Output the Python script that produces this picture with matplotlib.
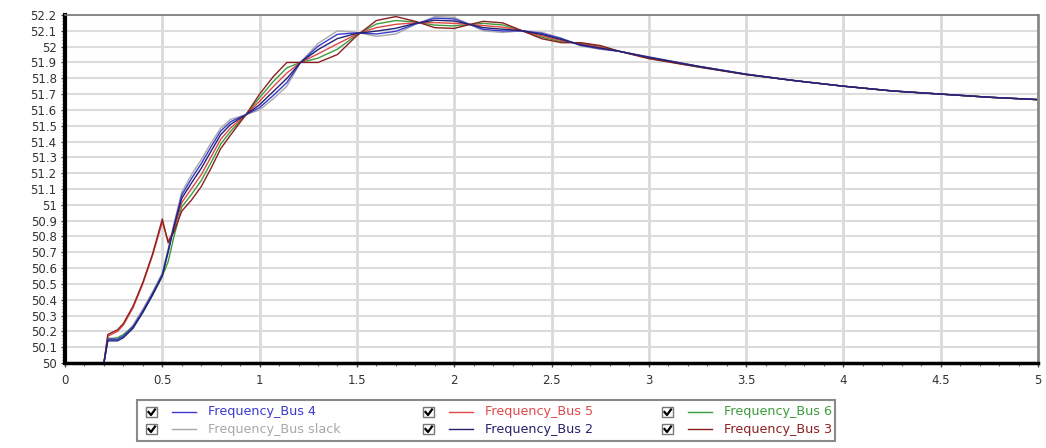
import numpy as np
import matplotlib
matplotlib.use("Agg")
import matplotlib.pyplot as plt
from matplotlib.patches import Rectangle
from matplotlib.ticker import MultipleLocator, FuncFormatter

# time grid (s)
t = [0.0, 0.2, 0.22, 0.27, 0.3, 0.35, 0.4, 0.45, 0.5, 0.53, 0.56,
     0.6, 0.65, 0.7, 0.75, 0.8, 0.85, 0.93, 1.0, 1.07, 1.14, 1.21,
     1.3, 1.4, 1.5, 1.6, 1.7, 1.8, 1.9, 2.0, 2.08, 2.15, 2.25, 2.35,
     2.45, 2.55, 2.65, 2.75, 2.85, 3.0, 3.25, 3.5, 3.75, 4.0, 4.25,
     4.5, 4.75, 5.0]

# shared tail (t >= 3.75)
tail = [51.785, 51.75, 51.72, 51.70, 51.68, 51.665]

f_bus4 = [50.0, 50.0, 50.15, 50.15, 50.17, 50.23, 50.33, 50.44, 50.56, 50.71, 50.87,
          51.062, 51.166, 51.26, 51.366, 51.466, 51.525, 51.57, 51.615, 51.691, 51.773, 51.90,
          52.002, 52.078, 52.087, 52.08, 52.097, 52.143, 52.18, 52.175, 52.14, 52.109, 52.099, 52.10,
          52.084, 52.051, 52.008, 51.987, 51.97, 51.934, 51.877, 51.826] + tail
f_bus5 = [50.0, 50.0, 50.17, 50.20, 50.24, 50.35, 50.50, 50.68, 50.89, 50.77, 50.84,
          51.014, 51.102, 51.19, 51.302, 51.414, 51.485, 51.57, 51.655, 51.747, 51.833, 51.90,
          51.954, 52.018, 52.079, 52.12, 52.141, 52.151, 52.152, 52.147, 52.14, 52.133, 52.123, 52.10,
          52.068, 52.039, 52.016, 51.996, 51.97, 51.929, 51.875, 51.825] + tail
f_bus6 = [50.0, 50.0, 50.15, 50.16, 50.18, 50.23, 50.32, 50.43, 50.55, 50.64, 50.80,
          50.987, 51.066, 51.153, 51.266, 51.384, 51.463, 51.57, 51.678, 51.779, 51.866, 51.90,
          51.927, 51.984, 52.075, 52.143, 52.165, 52.156, 52.136, 52.131, 52.14, 52.147, 52.137, 52.10,
          52.059, 52.032, 52.021, 52.002, 51.97, 51.927, 51.873, 51.824] + tail
f_slack = [50.0, 50.0, 50.16, 50.15, 50.17, 50.24, 50.34, 50.45, 50.57, 50.72, 50.88,
           51.08, 51.19, 51.285, 51.39, 51.485, 51.54, 51.57, 51.60, 51.67, 51.75, 51.90,
           52.02, 52.10, 52.09, 52.065, 52.08, 52.14, 52.19, 52.185, 52.14, 52.10, 52.09, 52.10,
           52.09, 52.055, 52.005, 51.983, 51.97, 51.936, 51.878, 51.827] + tail
f_bus2 = [50.0, 50.0, 50.14, 50.14, 50.16, 50.22, 50.32, 50.43, 50.55, 50.70, 50.86,
          51.041, 51.138, 51.23, 51.338, 51.443, 51.508, 51.57, 51.633, 51.716, 51.799, 51.90,
          51.981, 52.051, 52.084, 52.098, 52.116, 52.147, 52.167, 52.162, 52.14, 52.12, 52.11, 52.10,
          52.077, 52.045, 52.012, 51.991, 51.97, 51.932, 51.876, 51.825] + tail
f_bus3 = [50.0, 50.0, 50.18, 50.21, 50.25, 50.36, 50.51, 50.69, 50.91, 50.76, 50.83,
          50.96, 51.03, 51.115, 51.23, 51.355, 51.44, 51.57, 51.70, 51.81, 51.90, 51.90,
          51.90, 51.95, 52.07, 52.165, 52.19, 52.16, 52.12, 52.115, 52.14, 52.16, 52.15, 52.10,
          52.05, 52.025, 52.025, 52.007, 51.97, 51.924, 51.872, 51.823] + tail

names = ["Frequency_Bus 4", "Frequency_Bus 5", "Frequency_Bus 6",
         "Frequency_Bus slack", "Frequency_Bus 2", "Frequency_Bus 3"]
series = [f_bus4, f_bus5, f_bus6, f_slack, f_bus2, f_bus3]
colors = ["#3a3ad0", "#e04848", "#3c9c3c", "#a8a8a8", "#23236e", "#8c2020"]
draw_order = [3, 2, 1, 5, 0, 4]

fig = plt.figure(figsize=(10.46, 4.48), dpi=100)
ax = fig.add_axes([65/1046, 1-363/448, (1038-65)/1046, (363-15)/448])

for i in draw_order:
    ax.plot(t, series[i], color=colors[i], lw=1.0)

ax.set_xlim(0, 5)
ax.set_ylim(50, 52.2)
ax.xaxis.set_major_locator(MultipleLocator(0.5))
ax.xaxis.set_minor_locator(MultipleLocator(0.1))
ax.yaxis.set_major_locator(MultipleLocator(0.1))
ax.yaxis.set_minor_locator(MultipleLocator(0.02))
ax.xaxis.set_major_formatter(FuncFormatter(lambda v, p: "%g" % round(v, 2)))
ax.yaxis.set_major_formatter(FuncFormatter(lambda v, p: "%g" % round(v, 2)))
ax.tick_params(axis="both", which="major", labelsize=8.5, length=3, width=1,
               color="#444444", labelcolor="#333333")
ax.tick_params(axis="both", which="minor", length=2, width=0.8, color="#666666")
ax.tick_params(axis="x", pad=5)
ax.tick_params(axis="y", pad=3)

ax.grid(True, axis="x", which="major", color="#d9d9d9", lw=2.0)
ax.grid(True, axis="y", which="major", color="#dcdcdc", lw=1.5)
ax.set_axisbelow(True)

ax.spines["left"].set_linewidth(3)
ax.spines["left"].set_color("black")
ax.spines["bottom"].set_linewidth(2.5)
ax.spines["bottom"].set_color("black")
ax.spines["right"].set_linewidth(2)
ax.spines["right"].set_color("#8a8a8a")
ax.spines["top"].set_linewidth(1.2)
ax.spines["top"].set_color("#777777")

# legend panel with check boxes
W, H = 1046.0, 448.0
fig.patches.append(Rectangle((137/W, 1-441/H), (835-137)/W, (441-400)/H,
                             transform=fig.transFigure, fill=False,
                             edgecolor="#8a8a8a", lw=1.5))
col_x = [146, 423, 662]
row_y = [412, 429]
for k, name in enumerate(names):
    cx = col_x[k % 3]
    cy = row_y[k // 3]
    fig.patches.append(Rectangle((cx/W, 1-(cy+5)/H), 11/W, 10/H,
                                 transform=fig.transFigure, facecolor="white",
                                 edgecolor="#777777", lw=1))
    fig.lines.append(plt.Line2D([(cx+2.5)/W, (cx+5)/W, (cx+9)/W],
                                [1-(cy)/H, 1-(cy+3)/H, 1-(cy-2.5)/H],
                                transform=fig.transFigure, color="black", lw=1.6))
    fig.lines.append(plt.Line2D([(cx+26)/W, (cx+50)/W], [1-cy/H, 1-cy/H],
                                transform=fig.transFigure, color=colors[k], lw=1.0))
    fig.text((cx+62)/W, 1-cy/H, name, color=colors[k], fontsize=9.2,
             ha="left", va="center")

fig.savefig("out.png", dpi=100)
